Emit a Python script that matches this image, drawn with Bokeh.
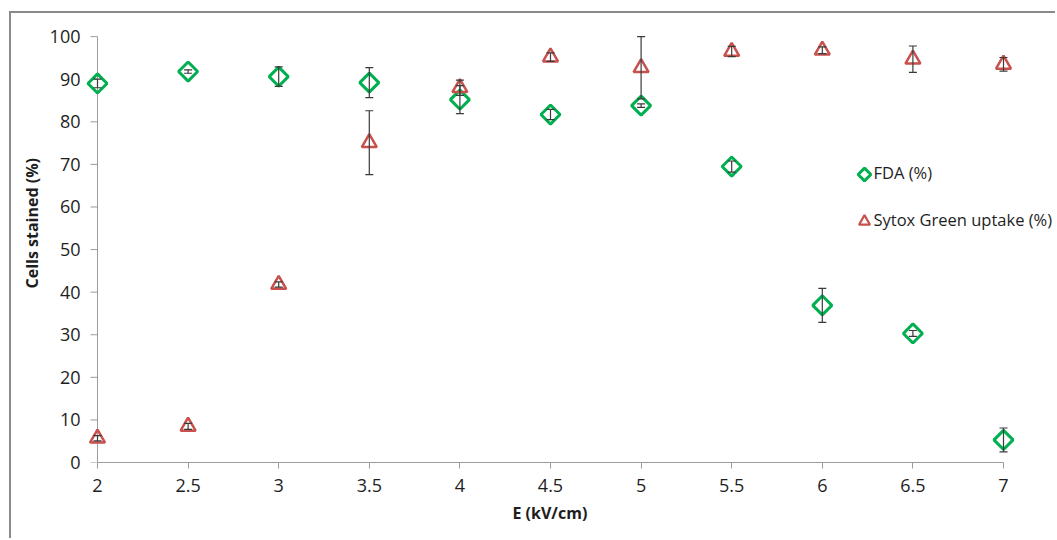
import math
from bokeh.plotting import figure
from bokeh.models import (ColumnDataSource, Range1d, FixedTicker, Whisker, TeeHead,
                          CustomJSTickFormatter, Title)
from bokeh.core.properties import value
from bokeh.embed import file_html
from bokeh.resources import INLINE

# ---- data ----
E_kv = [2, 2.5, 3, 3.5, 4, 4.5, 5, 5.5, 6, 6.5, 7]
fda = [89.0, 91.8, 90.6, 89.2, 85.2, 81.7, 83.8, 69.5, 36.9, 30.3, 5.3]
fda_err = [1.0, 0.4, 2.3, 3.5, 3.3, 1.2, 0.4, 1.3, 4.0, 0.7, 2.8]
sytox = [5.7, 8.5, 41.8, 75.1, 88.0, 95.2, 92.7, 96.5, 96.8, 94.7, 93.5]
sytox_err = [0.6, 0.7, 0.6, 7.5, 1.8, 1.0, 7.3, 1.2, 0.8, 3.1, 1.6]

x_ticks = [2, 2.5, 3, 3.5, 4, 4.5, 5, 5.5, 6, 6.5, 7]
x_tick_labels = ["2", "2.5", "3", "3.5", "4", "4.5", "5", "5.5", "6", "6.5", "7"]
y_ticks = [0, 10, 20, 30, 40, 50, 60, 70, 80, 90, 100]

x_title = "E (kV/cm)"
y_title = "Cells stained (%)"
series_names = ["FDA (%)", "Sytox Green uptake (%)"]

GREEN = "#00B050"
RED = "#C8504D"
AXIS = "#9C9C9C"
TEXT = "#1E1E1E"
FONT = "Open Sans"

# ---- geometry (page pixels) ----
canvas_x, canvas_y = 11, 13          # after CSS margin + border
frame_l, frame_t = 84, 34
frame_w, frame_h = 971, 428
frame_b = frame_t + frame_h
pad_l = 13
axis_px = 906                          # pixels between first and last x tick
ppu = axis_px / (x_ticks[-1] - x_ticks[0])
x_start = x_ticks[0] - pad_l / ppu
x_end = x_start + frame_w / ppu
y_start, y_end = y_ticks[0], y_ticks[-1] + 0.5
ppy = frame_h / (y_end - y_start)

def sx_to_x(sx):
    return x_start + (sx - frame_l) / ppu

def sy_to_y(sy):
    return y_start + (frame_b - sy) / ppy

p = figure(width=(frame_l - canvas_x) + frame_w, height=(frame_t - canvas_y) + frame_h + 76,
           frame_width=frame_w, frame_height=frame_h,
           min_border_left=frame_l - canvas_x, min_border_right=0,
           min_border_top=frame_t - canvas_y, min_border_bottom=76,
           x_range=Range1d(x_start, x_end), y_range=Range1d(y_start, y_end),
           output_backend="svg", toolbar_location=None,
           background_fill_color="white", border_fill_color="white")
p.styles = {"margin-left": "9px", "margin-top": "11px",
            "border-left": "2px solid #8A8A8A", "border-top": "2px solid #8A8A8A"}
p.grid.visible = False
p.outline_line_color = None

# x axis (real)
xa = p.xaxis[0]
xa.ticker = FixedTicker(ticks=x_ticks)
xa.formatter = CustomJSTickFormatter(args=dict(t=x_ticks, l=x_tick_labels), code="""
    for (let i = 0; i < t.length; i++) { if (Math.abs(t[i] - tick) < 1e-9) return l[i]; }
    return tick.toString();
""")
xa.bounds = (x_ticks[0], x_ticks[-1])
xa.axis_line_color = AXIS
xa.major_tick_line_color = AXIS
xa.major_tick_out = 6
xa.major_tick_in = 0
xa.minor_tick_line_color = None
xa.major_label_text_font = FONT
xa.major_label_text_font_size = "18px"
xa.major_label_text_color = TEXT
xa.major_label_standoff = 10

# y axis: labels from real axis, line/ticks drawn at x = first tick
ya = p.yaxis[0]
ya.ticker = FixedTicker(ticks=y_ticks)
ya.axis_line_color = None
ya.major_tick_line_color = None
ya.minor_tick_line_color = None
ya.major_tick_out = 0
ya.major_tick_in = 0
ya.major_label_standoff = 4
ya.major_label_text_font = FONT
ya.major_label_text_font_size = "18px"
ya.major_label_text_color = TEXT

# axis titles (centred on the tick span, as in the reference)
x_title_left = 512
y_title_bottom = 288
p.add_layout(Title(text=x_title, align="left", offset=x_title_left - frame_l,
                   vertical_align="top", standoff=14,
                   text_font=FONT, text_font_style="bold", text_font_size="16px",
                   text_color=TEXT), "below")
p.add_layout(Title(text=y_title, align="left", offset=frame_b - y_title_bottom,
                   vertical_align="bottom", standoff=7,
                   text_font=FONT, text_font_style="bold", text_font_size="16px",
                   text_color=TEXT), "left")

x0 = x_ticks[0]
tick_len = 7 / ppu
p.segment(x0=[x0], y0=[y_ticks[0]], x1=[x0], y1=[y_ticks[-1]], line_color=AXIS, line_width=1)
p.segment(x0=[x0 - tick_len] * len(y_ticks), y0=y_ticks, x1=[x0] * len(y_ticks), y1=y_ticks,
          line_color=AXIS, line_width=1)

# ---- data ----
src_f = ColumnDataSource(dict(x=E_kv, y=fda,
                              lo=[v - e for v, e in zip(fda, fda_err)],
                              hi=[v + e for v, e in zip(fda, fda_err)]))
src_s = ColumnDataSource(dict(x=E_kv, y=sytox,
                              lo=[v - e for v, e in zip(sytox, sytox_err)],
                              hi=[v + e for v, e in zip(sytox, sytox_err)]))

p.scatter("x", "y", source=src_f, marker="square", angle=math.pi / 4, size=13.5,
          fill_color=None, line_color=GREEN, line_width=3)
p.scatter("x", "y", source=src_s, marker="triangle", size=15,
          fill_color=None, line_color=RED, line_width=2.5)

for src in (src_f, src_s):
    w = Whisker(base="x", upper="hi", lower="lo", source=src, level="overlay",
                line_color="#3A3A3A", line_width=1.2,
                upper_head=TeeHead(size=8, line_color="#3A3A3A", line_width=1.2),
                lower_head=TeeHead(size=8, line_color="#3A3A3A", line_width=1.2))
    p.add_layout(w)

# ---- legend (drawn in place, right side of the plot area) ----
leg_mx = sx_to_x(864)
leg_tx = sx_to_x(873)
leg_my = [sy_to_y(174), sy_to_y(221)]
leg_ty = [sy_to_y(172), sy_to_y(219)]
p.scatter([leg_mx], [leg_my[0]], marker="square", angle=math.pi / 4, size=9,
          fill_color=None, line_color=GREEN, line_width=3)
p.scatter([leg_mx], [leg_my[1]], marker="triangle", size=11,
          fill_color=None, line_color=RED, line_width=2.2)
p.text(x=[leg_tx, leg_tx], y=leg_ty, text=series_names, text_font=value(FONT),
       text_font_size=value("16.5px"), text_color=TEXT, text_baseline="middle",
       text_align="left")

open("out.html", "w").write(file_html(p, INLINE))
